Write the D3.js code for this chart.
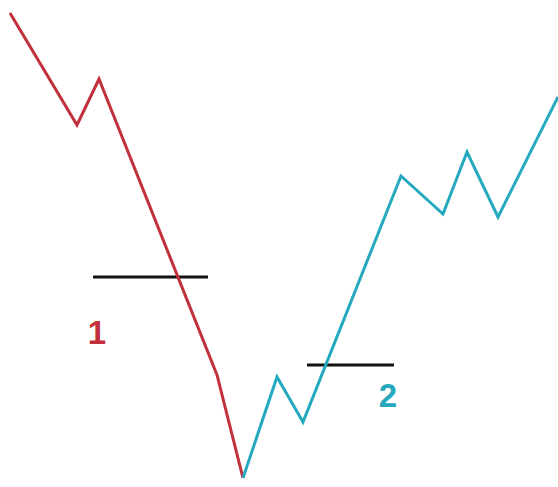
<!DOCTYPE html>
<html>
<head>
<meta charset="utf-8">
<script src="https://cdn.jsdelivr.net/npm/d3@7"></script>
<style>
  html, body { margin: 0; padding: 0; background: #fff; }
  svg { display: block; }
</style>
</head>
<body>
<div id="chart"></div>
<script>
// time position and price
var redX   = [10, 77, 99, 217, 243];
var redY   = [474, 362, 408, 112, 9];
var cyanX  = [243, 277, 303, 401, 443, 467, 498, 558];
var cyanY  = [9, 110, 65, 311, 273, 335, 270, 390];
var levelNames = ["1", "2"];
var levelY     = [210, 122];
var levelFrom  = [93, 307];
var levelTo    = [208, 394];
var labelX     = [97, 388];
var labelY     = [143, 80];

var width = 558, height = 487;
var colours = { red: "#c1303b", cyan: "#25a9be" };
var labelColours = [colours.red, colours.cyan];

var x = d3.scaleLinear().domain([0, 558]).range([0, width]);
var y = d3.scaleLinear().domain([0, 487]).range([height, 0]);

var svg = d3.select("#chart").append("svg")
    .attr("width", width)
    .attr("height", height);

var line = d3.line()
    .x(function(d) { return x(d[0]); })
    .y(function(d) { return y(d[1]); });

function pairs(xs, ys) {
    return xs.map(function(v, i) { return [v, ys[i]]; });
}

// black level lines
svg.selectAll("line.level")
    .data(levelY)
    .enter().append("line")
    .attr("class", "level")
    .attr("x1", function(d, i) { return x(levelFrom[i]); })
    .attr("x2", function(d, i) { return x(levelTo[i]); })
    .attr("y1", function(d) { return y(d); })
    .attr("y2", function(d) { return y(d); })
    .attr("stroke", "#111")
    .attr("stroke-width", 3);

svg.append("path")
    .datum(pairs(redX, redY))
    .attr("d", line)
    .attr("fill", "none")
    .attr("stroke", colours.red)
    .attr("stroke-width", 3)
    .attr("stroke-linejoin", "miter");

svg.append("path")
    .datum(pairs(cyanX, cyanY))
    .attr("d", line)
    .attr("fill", "none")
    .attr("stroke", colours.cyan)
    .attr("stroke-width", 3)
    .attr("stroke-linejoin", "miter");

svg.selectAll("text.label")
    .data(levelNames)
    .enter().append("text")
    .attr("class", "label")
    .attr("x", function(d, i) { return x(labelX[i]); })
    .attr("y", function(d, i) { return y(labelY[i]); })
    .attr("text-anchor", "middle")
    .attr("font-family", "Liberation Sans, Arial, sans-serif")
    .attr("font-weight", "bold")
    .attr("font-size", 33)
    .attr("fill", function(d, i) { return labelColours[i]; })
    .text(function(d) { return d; });
</script>
</body>
</html>
